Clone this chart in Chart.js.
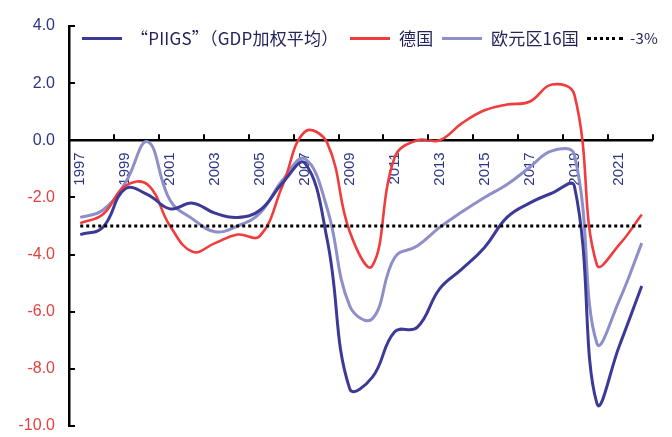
<!DOCTYPE html>
<html>
<head>
<meta charset="utf-8">
<script src="https://cdn.jsdelivr.net/npm/chart.js@4/dist/chart.umd.min.js"></script>
<style>
  html, body { margin: 0; padding: 0; background: #fff; }
  #wrap { position: relative; width: 672px; height: 437px; }
  #legend { position: absolute; top: 27px; left: 0; width: 672px; height: 22px;
            font-family: "Noto Sans CJK SC", sans-serif; font-size: 17px; color: #23235c; letter-spacing: 0.2px; }
  .item { position: absolute; top: 0; display: flex; align-items: center; white-space: nowrap; line-height: 22px; }
  .swatch { width: 40px; height: 0; margin-right: 9px; border-top-width: 3px; border-top-style: solid; }
  .small { font-size: 15px; }
</style>
</head>
<body>
<div id="wrap">
  <canvas id="deficitChart" width="672" height="437"></canvas>
  <div id="legend"></div>
</div>
<script>
// 年份与三条赤字率序列（占GDP %）
const years = ['1997', '1998', '1999', '2000', '2001', '2002', '2003', '2004', '2005', '2006',
               '2007', '2008', '2009', '2010', '2011', '2012', '2013', '2014', '2015', '2016',
               '2017', '2018', '2019', '2020', '2021', '2022'];
const piigs   = [-3.3, -3.05, -1.7, -1.9, -2.4, -2.2, -2.55, -2.7, -2.45, -1.5,
                 -0.8, -3.5, -8.7, -8.3, -6.7, -6.55, -5.2, -4.5, -3.75, -2.7,
                 -2.2, -1.85, -1.6, -9.2, -7.2, -5.1];
const germany = [-2.9, -2.6, -1.6, -1.55, -3.0, -3.9, -3.6, -3.3, -3.35, -1.6,
                 0.3, -0.1, -3.2, -4.4, -0.6, 0.0, 0.0, 0.6, 1.05, 1.25,
                 1.35, 1.95, 1.6, -4.35, -3.65, -2.6];
const euro16  = [-2.7, -2.45, -1.5, -0.05, -2.1, -2.75, -3.2, -3.0, -2.55, -1.4,
                 -0.65, -2.4, -5.8, -6.25, -4.1, -3.7, -3.05, -2.5, -2.0, -1.55,
                 -0.95, -0.37, -0.5, -7.1, -5.6, -3.6];
const limit   = [-3, -3, -3, -3, -3, -3, -3, -3, -3, -3, -3, -3, -3,
                 -3, -3, -3, -3, -3, -3, -3, -3, -3, -3, -3, -3, -3];
const seriesNames = ['“PIIGS”（GDP加权平均）', '德国', '欧元区16国', '-3%'];

const NAVY = '#3b3a97';
const RED = '#f03c3c';
const LILAC = '#8e8ec8';
const POS_LABEL = '#2c3585';
const NEG_LABEL = '#e4403f';

Chart.defaults.font.family = '"Liberation Sans", Arial, sans-serif';

// 坐标轴刻度线：x轴刻度朝上、每两年一个；y轴刻度朝内
const tickMarks = {
  id: 'tickMarks',
  afterDraw(chart) {
    const { ctx, scales: { x, y } } = chart;
    const y0 = y.getPixelForValue(0);
    const step = x.getPixelForValue(1) - x.getPixelForValue(0);
    const start = x.getPixelForValue(0) - step / 2;
    ctx.save();
    ctx.strokeStyle = '#000';
    ctx.lineWidth = 2;
    for (let i = 0; i <= years.length; i += 2) {
      const px = Math.round(start + i * step);
      ctx.beginPath();
      ctx.moveTo(px, y0);
      ctx.lineTo(px, y0 - 6);
      ctx.stroke();
    }
    y.ticks.forEach(t => {
      const py = Math.round(y.getPixelForValue(t.value));
      ctx.beginPath();
      ctx.moveTo(y.right, py);
      ctx.lineTo(y.right + 6, py);
      ctx.stroke();
    });
    ctx.restore();
  }
};

const lineStyle = (color, width) => ({
  borderColor: color,
  backgroundColor: color,
  borderWidth: width,
  pointRadius: 0,
  tension: 0.42,
  fill: false
});

const chart = new Chart(document.getElementById('deficitChart'), {
  type: 'line',
  data: {
    labels: years,
    datasets: [
      { label: seriesNames[3], data: limit, borderColor: '#000', backgroundColor: '#000',
        borderWidth: 3, borderDash: [3, 3], pointRadius: 0, tension: 0, order: 0 },
      { label: seriesNames[2], data: euro16, ...lineStyle(LILAC, 3), order: 3 },
      { label: seriesNames[1], data: germany, ...lineStyle(RED, 2.6), order: 2 },
      { label: seriesNames[0], data: piigs, ...lineStyle(NAVY, 3), order: 1 }
    ]
  },
  options: {
    responsive: false,
    animation: false,
    layout: { padding: { top: 26, right: 13, bottom: 11, left: 0 } },
    plugins: {
      legend: { display: false },
      tooltip: { enabled: false }
    },
    scales: {
      x: {
        type: 'category',
        offset: true,
        position: { y: 0 },
        grid: { display: true, drawOnChartArea: false, drawTicks: false },
        border: { display: true, color: '#000', width: 2.5 },
        ticks: {
          autoSkip: false,
          minRotation: 90,
          maxRotation: 90,
          padding: 12,
          color: POS_LABEL,
          font: { size: 15 },
          callback: (v, i) => (i % 2 === 0 ? years[i] : '')
        }
      },
      y: {
        min: -10,
        max: 4,
        // 刻度线由插件画在轴内侧，这里只留出标签间距
        grid: { display: true, drawOnChartArea: false, drawTicks: true, tickLength: 13, tickColor: 'rgba(0,0,0,0)' },
        border: { display: true, color: '#000', width: 2.5 },
        afterFit: scale => { scale.width = 69; },
        ticks: {
          stepSize: 2,
          padding: 1,
          font: { size: 16 },
          color: ctx => (ctx.tick.value < 0 ? NEG_LABEL : POS_LABEL),
          callback: v => v.toFixed(1)
        }
      }
    }
  },
  plugins: [tickMarks]
});

// 图例：按系列名称与颜色生成
const legendLeft = [82, 350, 442, 587];
const legendColors = [NAVY, RED, LILAC, '#000'];
const legend = document.getElementById('legend');
seriesNames.forEach((name, i) => {
  const item = document.createElement('div');
  item.className = 'item';
  item.style.left = legendLeft[i] + 'px';
  const sw = document.createElement('span');
  sw.className = 'swatch';
  sw.style.borderTopColor = legendColors[i];
  const txt = document.createElement('span');
  txt.textContent = name;
  if (i === 3) {
    sw.style.borderTopStyle = 'dotted';
    sw.style.width = '36px';
    sw.style.marginRight = '7px';
    txt.className = 'small';
  }
  item.appendChild(sw);
  item.appendChild(txt);
  legend.appendChild(item);
});
</script>
</body>
</html>
